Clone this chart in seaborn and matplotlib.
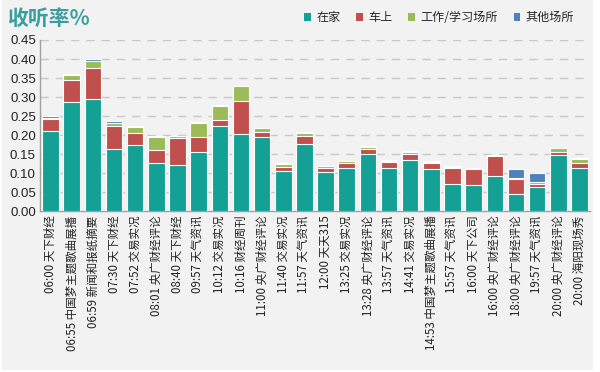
import matplotlib
matplotlib.use("Agg")
import matplotlib.pyplot as plt
import seaborn as sns
import numpy as np
import pandas as pd
from matplotlib.patches import Patch, Rectangle

programs = [
    "06:00 天下财经", "06:55 中国梦主题歌曲展播", "06:59 新闻和报纸摘要", "07:30 天下财经",
    "07:52 交易实况", "08:01 央广财经评论", "08:40 天下财经", "09:57 天气资讯",
    "10:12 交易实况", "10:16 财经周刊", "11:00 央广财经评论", "11:40 交易实况",
    "11:57 天气资讯", "12:00 天天315", "13:25 交易实况", "13:28 央广财经评论",
    "13:57 天气资讯", "14:41 交易实况", "14:53 中国梦主题歌曲展播", "15:57 天气资讯",
    "16:00 天下公司", "16:00 央广财经评论", "18:00 央广财经评论", "19:57 天气资讯",
    "20:00 央广财经评论", "20:00 海阳现场秀",
]
home = [0.210, 0.286, 0.294, 0.163, 0.174, 0.128, 0.122, 0.156, 0.224, 0.204,
        0.194, 0.107, 0.176, 0.103, 0.114, 0.150, 0.114, 0.136, 0.112, 0.072,
        0.069, 0.093, 0.045, 0.064, 0.148, 0.115]
car = [0.032, 0.060, 0.082, 0.062, 0.032, 0.034, 0.070, 0.040, 0.017, 0.086,
       0.013, 0.010, 0.021, 0.011, 0.014, 0.014, 0.016, 0.015, 0.015, 0.042,
       0.041, 0.052, 0.041, 0.008, 0.008, 0.013]
work = [0.004, 0.011, 0.020, 0.008, 0.016, 0.033, 0.005, 0.036, 0.036, 0.038,
        0.011, 0.008, 0.008, 0.004, 0.003, 0.005, 0.002, 0.004, 0.002, 0.002,
        0.002, 0.001, 0.002, 0.006, 0.010, 0.009]
other = [0.005, 0.003, 0.004, 0.003, 0.003, 0.003, 0.002, 0.003, 0.003, 0.000,
         0.002, 0.002, 0.003, 0.002, 0.002, 0.003, 0.002, 0.003, 0.002, 0.003,
         0.002, 0.001, 0.024, 0.023, 0.000, 0.003]
series_names = ["在家", "车上", "工作/学习场所", "其他场所"]
colors = ["#14a095", "#c0504d", "#9bbb59", "#4f81bd"]
yticks = [0.00, 0.05, 0.10, 0.15, 0.20, 0.25, 0.30, 0.35, 0.40, 0.45]

sns.set_style("white")
plt.rcParams["font.family"] = ["Noto Sans CJK SC", "DejaVu Sans"]

bg = "#f2f2f2"
fig = plt.figure(figsize=(6.0, 3.72), dpi=100, facecolor="white")
fig.patches.append(Rectangle((0.003, 0.005), 0.985, 0.995, transform=fig.transFigure,
                             facecolor=bg, edgecolor="none", zorder=-10))
ax = fig.add_axes([0.0667, 0.432, 0.9166, 0.4605])
ax.set_facecolor(bg)

df = pd.DataFrame({"program": programs, "在家": home, "车上": car,
                   "工作/学习场所": work, "其他场所": other})
cum = df[series_names].cumsum(axis=1)

for i in range(3, -1, -1):
    sns.barplot(x=df["program"], y=cum[series_names[i]], color=colors[i],
                saturation=1, width=0.78, edgecolor="white", linewidth=0.8,
                ax=ax, zorder=3)

ax.set_xlim(-0.5, len(programs) - 0.5)
ax.set_ylim(0, 0.45)
ax.set_yticks(yticks)
ax.set_yticklabels([f"{t:.2f}" for t in yticks], fontsize=9.5, color="#222222",
                   family=["Liberation Sans", "DejaVu Sans"])
ax.set_xticks(range(len(programs)))
ax.set_xticklabels(programs, rotation=90, fontsize=8.3, color="#222222", va="top", ha="center")
ax.tick_params(axis="both", length=0, pad=3)
ax.set_xlabel("")
ax.set_ylabel("")
for y in yticks[1:]:
    ax.axhline(y, color="#c8c8c8", lw=1.0, dashes=(6, 5), zorder=1)
for s in ["top", "right"]:
    ax.spines[s].set_visible(False)
ax.spines["left"].set_color("#a0a0a0")
ax.spines["bottom"].set_color("#a0a0a0")
ax.spines["left"].set_linewidth(1.0)
ax.spines["bottom"].set_linewidth(1.0)

fig.text(0.012, 0.952, "收听率%", fontsize=15, fontweight="bold", color="#3a9ea0",
         va="center", ha="left")

handles = [Patch(facecolor=c, edgecolor="none") for c in colors]
fig.legend(handles, series_names, loc="center right", bbox_to_anchor=(0.975, 0.952),
           ncol=4, frameon=False, fontsize=8.7, handlelength=0.55, handleheight=0.55,
           handletextpad=0.45, columnspacing=1.3)

fig.savefig("out.png", dpi=100, facecolor="white")
